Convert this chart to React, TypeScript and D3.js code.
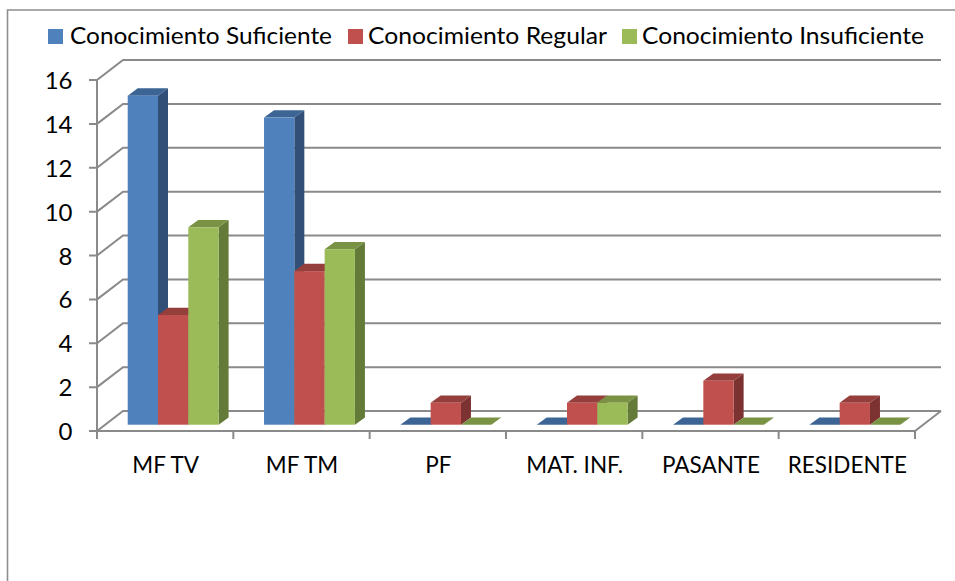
import React from "react";
import * as d3 from "d3";

const categories = ["MF TV", "MF TM", "PF", "MAT. INF.", "PASANTE", "RESIDENTE"];
const seriesNames = ["Conocimiento Suficiente", "Conocimiento Regular", "Conocimiento Insuficiente"];
const suficiente = [15, 14, 0, 0, 0, 0];
const regular = [5, 7, 1, 1, 2, 1];
const insuficiente = [9, 8, 0, 1, 0, 0];
const yTicks = [0, 2, 4, 6, 8, 10, 12, 14, 16];
const fronts = ["#4f81bd", "#c0504d", "#9bbb59"];
const sides = ["#324f77", "#7b3230", "#647a39"];
const tops = ["#3c6494", "#953f3c", "#799243"];
const legendSwatchX = [48, 348, 622];
const legendTextX = [70, 368, 642];
const legendTextW = [262, 239, 282];

const FONT = "Lato, Carlito, 'Noto Sans', sans-serif";
const GRID = "#8a8a8a";
const DX = 26, DY = 20;
const BAR_DX = 10, BAR_DY = 7.3;

export default function App() {
  const series = [suficiente, regular, insuficiente];
  const y = d3.scaleLinear().domain([0, 16]).range([431, 80]);
  const x = d3.scaleBand<string>().domain(categories).range([97, 915]);
  const inner = d3.scaleBand<number>().domain([0, 1, 2]).range([30.7, 30.7 + 90.9]);
  const line = d3.line();
  const poly = (pts: [number, number][]) => line(pts) + "Z";
  const lift = y(0) - 6.3;
  const barTop = (v: number) => lift - (y(0) - y(v));
  const back = x.range()[1] + DX;

  return (
    <svg width={955} height={581} style={{ position: "absolute", left: 0, top: 0, background: "#fff" }} fontFamily={FONT}>
      <path d="M7.5 581V10H955" fill="none" stroke="#8e8e8e" strokeWidth={1.6} />

      {yTicks.map((t) => (
        <g key={t}>
          <path
            d={line([[89, y(t)], [97, y(t)], [97 + DX, y(t) - DY], [back, y(t) - DY]])!}
            fill="none" stroke={GRID} strokeWidth={2}
          />
          <text x={72.5} y={y(t) + 9} textAnchor="end" fontSize={24} fill="#000">{t}</text>
        </g>
      ))}
      <path d={line([[97, y(16)], [97, y(0)], [915, y(0)], [back, y(0) - DY]])!} fill="none" stroke={GRID} strokeWidth={2} />

      {categories.map((c) => (
        <line key={c} x1={x(c)} x2={x(c)} y1={y(0)} y2={y(0) + 8} stroke={GRID} strokeWidth={2} />
      ))}
      <line x1={915} x2={915} y1={y(0)} y2={y(0) + 8} stroke={GRID} strokeWidth={2} />

      {categories.map((c, i) => (
        <g key={c}>
          {series.map((vals, s) => {
            const x0 = x(c)! + inner(s)!;
            const w = inner.bandwidth();
            const t = barTop(vals[i]);
            const h = lift - t;
            return (
              <g key={s}>
                {h > 0 && (
                  <path
                    d={poly([[x0 + w, t], [x0 + w + BAR_DX, t - BAR_DY], [x0 + w + BAR_DX, lift - BAR_DY], [x0 + w, lift]])}
                    fill={sides[s]}
                  />
                )}
                <path
                  d={poly([[x0, t], [x0 + BAR_DX, t - BAR_DY], [x0 + w + BAR_DX, t - BAR_DY], [x0 + w, t]])}
                  fill={tops[s]}
                />
                {h > 0 && <rect x={x0} y={t} width={w} height={h} fill={fronts[s]} />}
              </g>
            );
          })}
          <text x={x(c)! + x.bandwidth() / 2 + 0.5} y={473} textAnchor="middle" fontSize={22.5} fill="#000">{c}</text>
        </g>
      ))}

      {seriesNames.map((n, i) => (
        <g key={n}>
          <rect x={legendSwatchX[i]} y={29} width={15} height={15} fill={fronts[i]} />
          <text x={legendTextX[i]} y={44} fontSize={23.5} fill="#000" textLength={legendTextW[i]} lengthAdjust="spacingAndGlyphs">{n}</text>
        </g>
      ))}
    </svg>
  );
}
